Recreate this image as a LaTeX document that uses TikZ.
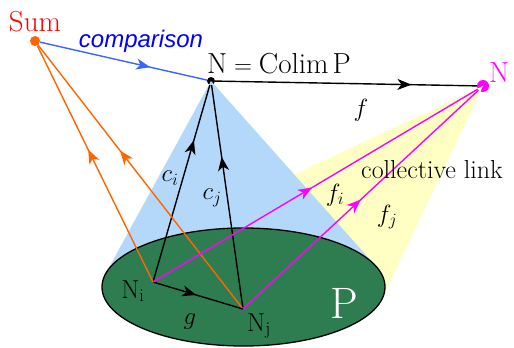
\documentclass[tikz,border=0pt]{standalone}
\usepackage{fontspec}
\newfontfamily\compfont{Liberation Sans}
\usetikzlibrary{arrows.meta, decorations.markings, shapes.geometric}

\definecolor{sumorange}{RGB}{255,102,0}
\definecolor{compblue}{RGB}{60,100,255}
\definecolor{linkpink}{RGB}{255,0,255}
\definecolor{conefill}{RGB}{180,216,250}
\definecolor{linkfill}{RGB}{255,255,196}
\definecolor{diagfill}{RGB}{46,125,80}

\begin{document}
\begin{tikzpicture}[
    x=1pt, y=-1pt,
    >=Stealth,
    midarrow/.style={postaction={decorate}, decoration={markings,
      mark=at position #1 with {\arrow{Stealth[length=14pt,width=11pt,inset=4pt]}}}},
    dot/.style={circle, inner sep=0pt, minimum size=#1},
    conn/.style={line width=1.4pt},
    lbl/.style={font=\fontsize{26}{30}\selectfont, inner sep=0pt},
    big/.style={font=\fontsize{29}{34}\selectfont, inner sep=0pt},
  ]
  \useasboundingbox (0,0) rectangle (514,348);
  % apexes and diagram objects
  \node[dot=10pt, fill=sumorange] (sum) at (35,41) {};
  \node[dot=8pt, fill=black] (colim) at (211,81) {};
  \node[dot=12pt, fill=linkpink] (nprime) at (483,86) {};
  \coordinate (ni) at (153,282);
  \coordinate (nj) at (243,309);
  % tangent points of the cones
  \coordinate (cl) at (105.5,273.9);
  \coordinate (cr) at (376.2,266.5);
  \coordinate (yl) at (137.8,247.8);
  \coordinate (yr) at (382.3,298.4);
  % cones
  \fill[linkfill] (nprime.center) -- (yl) -- (yr) -- cycle;
  \fill[conefill] (colim.center) -- (cl) -- (cr) -- cycle;
  \node[ellipse, draw, line width=1.3pt, fill=diagfill, minimum width=283pt, minimum height=118pt] (diag) at (243.5,287) {};
  % comparison and f
  \draw[conn, compblue, midarrow=0.66] (sum) -- (colim);
  \draw[conn, midarrow=0.75] (colim) -- (nprime);
  % cocone c_i, c_j
  \draw[conn, midarrow=0.72] (ni) -- (colim);
  \draw[conn, midarrow=0.68] (nj) -- (colim);
  % links to Sum
  \draw[conn, sumorange, midarrow=0.56] (ni) -- (sum);
  \draw[conn, sumorange, midarrow=0.60] (nj) -- (sum);
  % g
  \draw[conn, midarrow=0.48] (ni) -- (nj);
  % collective link f_i, f_j
  \draw[conn, linkpink, midarrow=0.49] (ni) -- (nprime);
  \draw[conn, linkpink, midarrow=0.50] (nj) -- (nprime);
  % labels
  \node[big, text=red] (sumlbl) at (35,22) {Sum};
  \node[font=\compfont\itshape\fontsize{24}{28}\selectfont, text=blue, inner sep=0pt] (complbl) at (141,41) {comparison};
  \node[big] (colimlbl) at (279,64) {$\mathrm{N=Colim\,P}$};
  \node[big, text=linkpink, anchor=west] (nplbl) at (489,73) {N};
  \node[lbl] (flbl) at (361,110) {$f$};
  \node[lbl] (cilbl) at (170,178) {$c_i$};
  \node[lbl] (cjlbl) at (212,198) {$c_j$};
  \node[lbl] (filbl) at (335,195) {$f_i$};
  \node[lbl] (fjlbl) at (387,217) {$f_j$};
  \node[lbl] (linklbl) at (432,170) {collective link};
  \node[lbl] (nilbl) at (133,291) {$\mathrm{N_i}$};
  \node[lbl] (glbl) at (190,322) {$g$};
  \node[lbl] (njlbl) at (259,326) {$\mathrm{N_j}$};
  \node[font=\fontsize{44}{50}\selectfont, text=white, inner sep=0pt] (plbl) at (344,303) {P};
\end{tikzpicture}
\end{document}
